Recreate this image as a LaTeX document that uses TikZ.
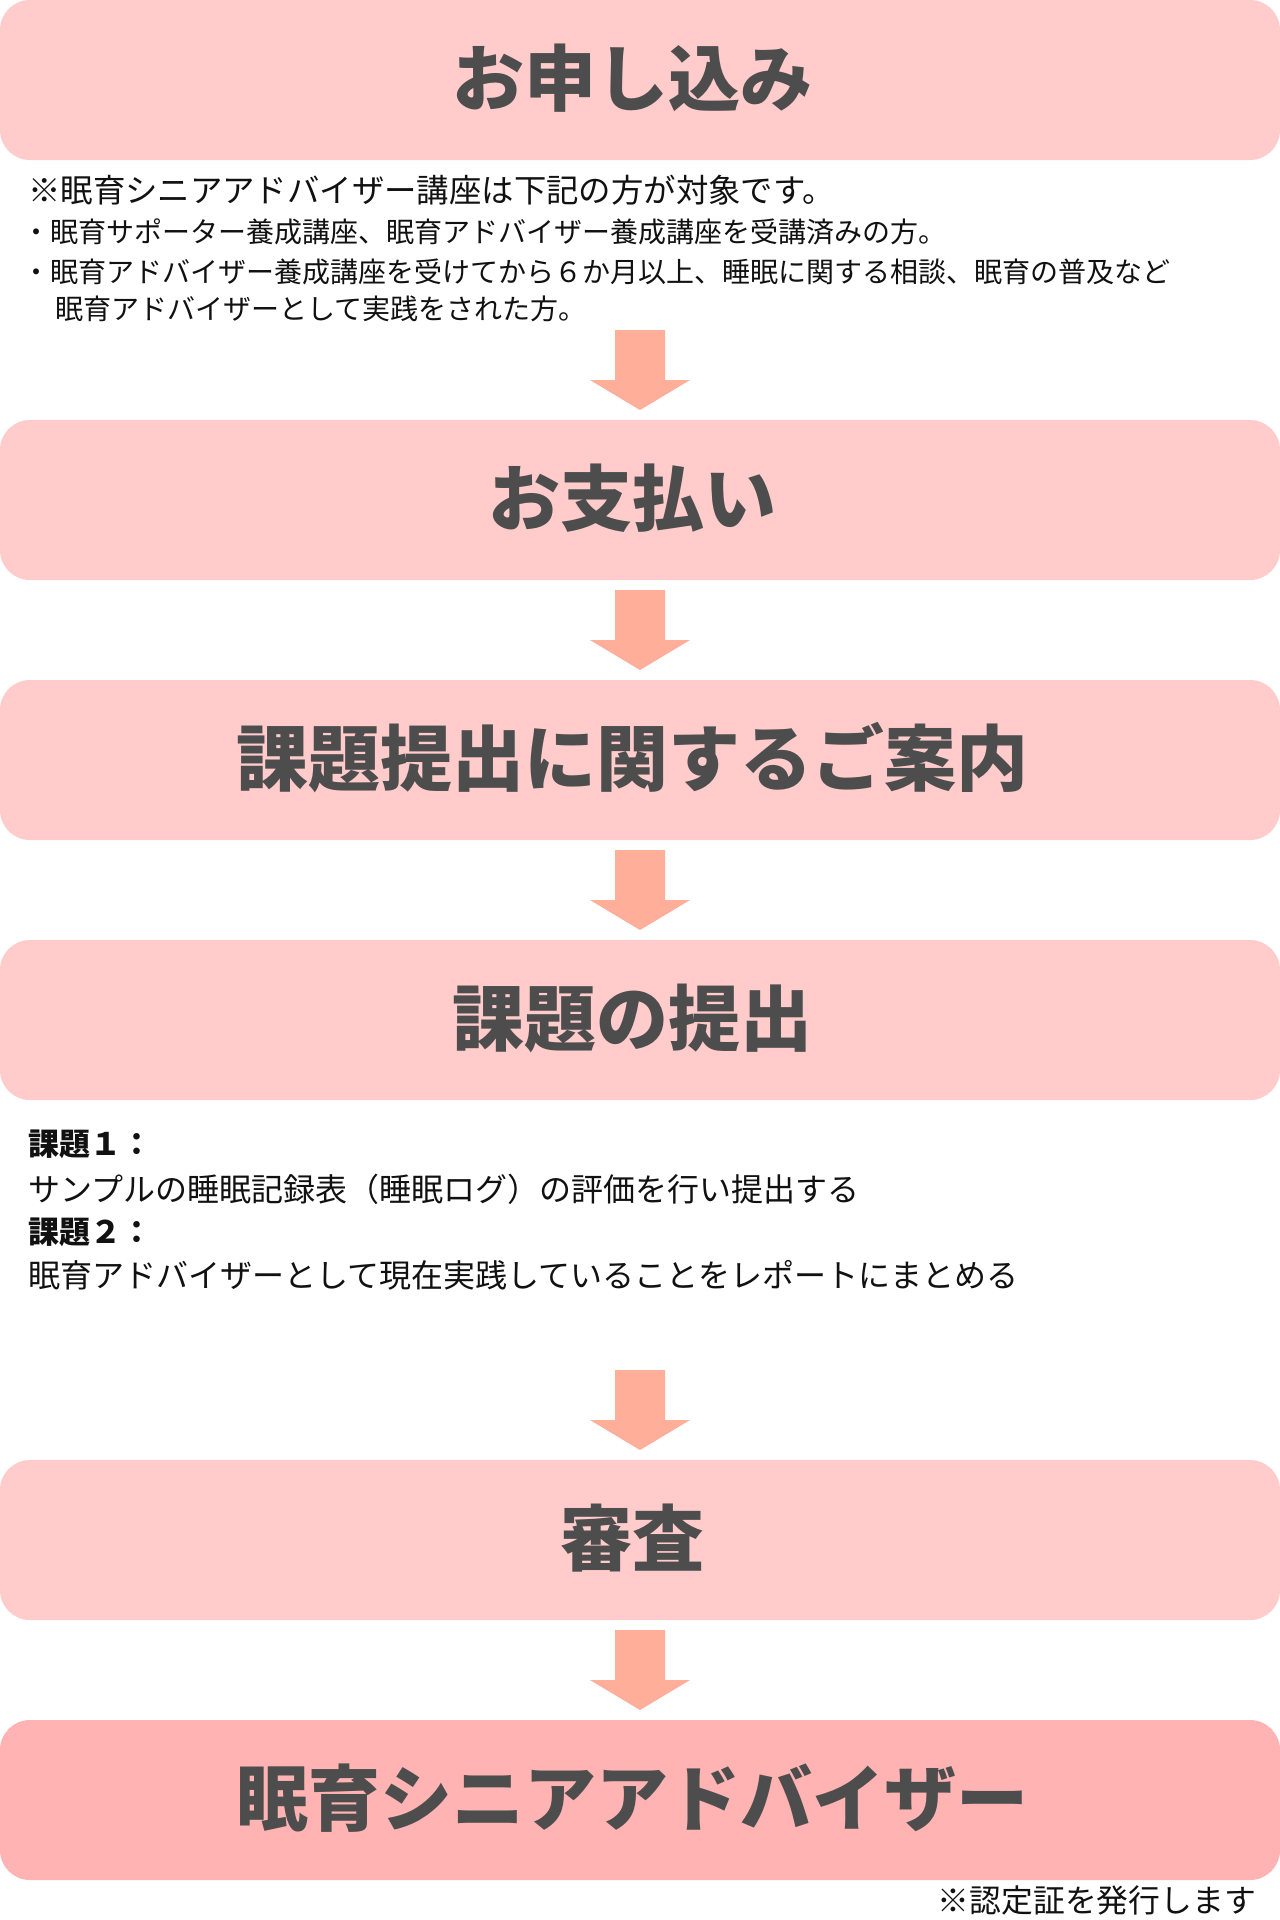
\documentclass[tikz,border=0pt]{standalone}
\usepackage{fontspec}
\setmainfont{Noto Sans CJK JP}
\definecolor{boxpink}{HTML}{FFCBCB}
\definecolor{boxdeep}{HTML}{FFB3B3}
\definecolor{arrowc}{HTML}{FFAE99}
\definecolor{titlec}{HTML}{4D4D4D}
\definecolor{bodyc}{HTML}{111111}
\tikzset{
  stepbox/.style={fill=boxpink, draw=none, rounded corners=30pt, minimum width=1280pt, minimum height=160pt, inner sep=0pt},
  titletext/.style={text=titlec, font=\fontsize{72}{80}\selectfont\bfseries, inner sep=0pt},
  bodytext/.style={text=bodyc, anchor=west, inner sep=0pt, font=\fontsize{28}{32}\selectfont},
  leadtext/.style={text=bodyc, anchor=west, inner sep=0pt, font=\fontsize{32.4}{36}\selectfont},
  tasktext/.style={text=bodyc, anchor=west, inner sep=0pt, font=\fontsize{31.8}{36}\selectfont},
  downarrow/.pic={\fill[arrowc] (-25,0) -- (25,0) -- (25,50) -- (50,50) -- (0,80) -- (-50,50) -- (-25,50) -- cycle;}
}
\begin{document}
\begin{tikzpicture}[x=1pt,y=-1pt]
\useasboundingbox (0,0) rectangle (1280,1920);
\fill[white] (0,0) rectangle (1280,1920);
% boxes
\node[stepbox] (b1) at (640,80) {};
\node[stepbox] (b2) at (640,500) {};
\node[stepbox] (b3) at (640,760) {};
\node[stepbox] (b4) at (640,1020) {};
\node[stepbox] (b5) at (640,1540) {};
\node[stepbox, fill=boxdeep] (b6) at (640,1800) {};
% titles
\node[titletext] (t1) at (632,78) {お申し込み};
\node[titletext] (t2) at (632,498) {お支払い};
\node[titletext] (t3) at (632,758) {課題提出に関するご案内};
\node[titletext] (t4) at (632,1018) {課題の提出};
\node[titletext] (t5) at (632,1538) {審査};
\node[titletext] (t6) at (632,1798) {眠育シニアアドバイザー};
% notes under first box
\node[leadtext] (n1) at (28,190) {※眠育シニアアドバイザー講座は下記の方が対象です。};
\node[bodytext] (n2) at (22,232) {・眠育サポーター養成講座、眠育アドバイザー養成講座を受講済みの方。};
\node[bodytext] (n3) at (22,272) {・眠育アドバイザー養成講座を受けてから６か月以上、睡眠に関する相談、眠育の普及など};
\node[bodytext] (n4) at (55,309) {眠育アドバイザーとして実践をされた方。};
% tasks
\node[tasktext, font=\fontsize{31}{36}\selectfont\bfseries] (k1) at (28,1144) {課題１：};
\node[tasktext, font=\fontsize{32}{36}\selectfont] (k1t) at (28,1189) {サンプルの睡眠記録表（睡眠ログ）の評価を行い提出する};
\node[tasktext, font=\fontsize{31}{36}\selectfont\bfseries] (k2) at (28,1232) {課題２：};
\node[tasktext, font=\fontsize{32}{36}\selectfont] (k2t) at (28,1275) {眠育アドバイザーとして現在実践していることをレポートにまとめる};
% final note
\node[tasktext, anchor=east] (fn) at (1256,1900) {※認定証を発行します};
% arrows
\coordinate (a1) at (640,330);
\coordinate (a2) at (640,590);
\coordinate (a3) at (640,850);
\coordinate (a4) at (640,1370);
\coordinate (a5) at (640,1630);
\pic at (a1) {downarrow};
\pic at (a2) {downarrow};
\pic at (a3) {downarrow};
\pic at (a4) {downarrow};
\pic at (a5) {downarrow};
\end{tikzpicture}
\end{document}
